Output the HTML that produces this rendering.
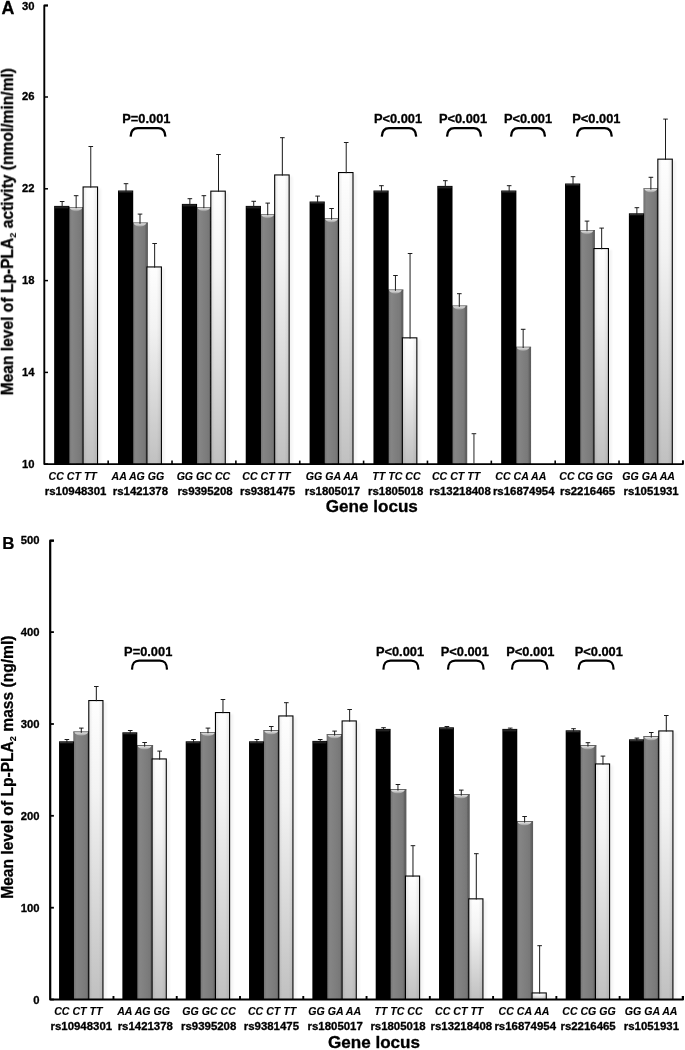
<!DOCTYPE html>
<html lang="en">
<head>
<meta charset="utf-8">
<title>Lp-PLA2 activity and mass by genotype</title>
<style>
html,body{margin:0;padding:0;background:#fff;}
body{width:685px;height:1050px;overflow:hidden;}
svg{display:block;}
text{font-family:"Liberation Sans",Arial,Helvetica,sans-serif;font-weight:bold;fill:#050505;stroke:#050505;stroke-width:0.32px;stroke-linejoin:round;}
.yt{font-size:11.8px;}
.gt{font-size:10.1px;font-style:italic;stroke-width:0.12px;}
.rs{font-size:11.1px;}
.pl{font-size:13.6px;}
.pn{font-size:17.8px;}
.ytl{font-size:16.5px;stroke-width:0.3px;}
.xtl{font-size:16.6px;}
</style>
</head>
<body>
<svg width="685" height="1050" viewBox="0 0 685 1050">
<defs>
<linearGradient id="gh" x1="0" y1="0" x2="1" y2="0">
<stop offset="0" stop-color="#5c5c5c"/><stop offset="0.07" stop-color="#787878"/><stop offset="0.2" stop-color="#858585"/><stop offset="0.55" stop-color="#7e7e7e"/><stop offset="0.8" stop-color="#787878"/><stop offset="0.87" stop-color="#656565"/><stop offset="1" stop-color="#5a5a5a"/>
</linearGradient>
<linearGradient id="gtop" x1="0" y1="0" x2="0" y2="1">
<stop offset="0" stop-color="#e2e2e2"/><stop offset="0.5" stop-color="#c4c4c4"/><stop offset="1" stop-color="#909090"/>
</linearGradient>
<linearGradient id="btop" x1="0" y1="0" x2="0" y2="1">
<stop offset="0" stop-color="#4a4a4a"/><stop offset="1" stop-color="#050505" stop-opacity="0"/>
</linearGradient>
<linearGradient id="wvA" x1="0" y1="0" x2="0" y2="1">
<stop offset="0" stop-color="#fefefe"/><stop offset="0.3" stop-color="#f3f3f3"/><stop offset="1" stop-color="#c0c0c0"/>
</linearGradient>
<linearGradient id="wvB" x1="0" y1="0" x2="0" y2="1">
<stop offset="0" stop-color="#fefefe"/><stop offset="0.3" stop-color="#f3f3f3"/><stop offset="1" stop-color="#c0c0c0"/>
</linearGradient>
<linearGradient id="wh" x1="0" y1="0" x2="1" y2="0">
<stop offset="0" stop-color="#000" stop-opacity="0.07"/><stop offset="0.25" stop-color="#000" stop-opacity="0"/><stop offset="0.7" stop-color="#000" stop-opacity="0"/><stop offset="1" stop-color="#000" stop-opacity="0.07"/>
</linearGradient>
<filter id="soft" x="0" y="0" width="685" height="1050" filterUnits="userSpaceOnUse"><feGaussianBlur stdDeviation="0.32"/></filter>
<filter id="sh" x="-50%" y="-5%" width="200%" height="110%"><feGaussianBlur stdDeviation="1.2"/></filter>
</defs>
<rect width="685" height="1050" fill="#fff"/>
<g filter="url(#soft)">
<g id="panelA">
<rect x="68.75" y="207" width="15.3" height="257.1" fill="url(#gh)"/>
<rect x="68.75" y="207" width="15.3" height="0.7" fill="#5a5a5a"/>
<path d="M69.65 207.7H82.45C80.45 212.3 71.65 212.3 69.65 207.7Z" fill="url(#gtop)"/>
<rect x="54.15" y="205.9" width="15.2" height="258.2" fill="#030303"/>
<rect x="54.95" y="206.7" width="13.4" height="2.4" fill="url(#btop)"/>
<rect x="84.05" y="188.4" width="17.05" height="275.7" fill="#000" opacity="0.045" filter="url(#sh)"/>
<rect x="82.55" y="186.4" width="15.55" height="277.7" fill="#000"/>
<rect x="83.65" y="187.5" width="13.35" height="276.6" fill="url(#wvA)"/>
<rect x="83.65" y="187.5" width="13.35" height="276.6" fill="url(#wh)"/>
<path d="M62.15 207.2V201.4M59.85 201.5H64.45" stroke="#1c1c1c" stroke-width="1" fill="none"/>
<path d="M76.15 208.2V195.6M73.85 195.7H78.45" stroke="#1c1c1c" stroke-width="1" fill="none"/>
<path d="M90.78 187.6V146.4M88.48 146.5H93.08" stroke="#1c1c1c" stroke-width="1" fill="none"/>
<rect x="132.61" y="222.6" width="15.3" height="241.5" fill="url(#gh)"/>
<rect x="132.61" y="222.6" width="15.3" height="0.7" fill="#5a5a5a"/>
<path d="M133.51 223.3H146.31C144.31 227.9 135.51 227.9 133.51 223.3Z" fill="url(#gtop)"/>
<rect x="118.01" y="190.5" width="15.2" height="273.6" fill="#030303"/>
<rect x="118.81" y="191.3" width="13.4" height="2.4" fill="url(#btop)"/>
<rect x="147.91" y="268.4" width="17.05" height="195.7" fill="#000" opacity="0.045" filter="url(#sh)"/>
<rect x="146.41" y="266.4" width="15.55" height="197.7" fill="#000"/>
<rect x="147.51" y="267.5" width="13.35" height="196.6" fill="url(#wvA)"/>
<rect x="147.51" y="267.5" width="13.35" height="196.6" fill="url(#wh)"/>
<path d="M126.01 191.8V183.6M123.71 183.7H128.31" stroke="#1c1c1c" stroke-width="1" fill="none"/>
<path d="M140.01 223.8V214M137.71 214.1H142.31" stroke="#1c1c1c" stroke-width="1" fill="none"/>
<path d="M154.63 267.6V243.4M152.33 243.5H156.94" stroke="#1c1c1c" stroke-width="1" fill="none"/>
<rect x="196.47" y="207" width="15.3" height="257.1" fill="url(#gh)"/>
<rect x="196.47" y="207" width="15.3" height="0.7" fill="#5a5a5a"/>
<path d="M197.37 207.7H210.17C208.17 212.3 199.37 212.3 197.37 207.7Z" fill="url(#gtop)"/>
<rect x="181.87" y="203.9" width="15.2" height="260.2" fill="#030303"/>
<rect x="182.67" y="204.7" width="13.4" height="2.4" fill="url(#btop)"/>
<rect x="211.77" y="192.6" width="17.05" height="271.5" fill="#000" opacity="0.045" filter="url(#sh)"/>
<rect x="210.27" y="190.6" width="15.55" height="273.5" fill="#000"/>
<rect x="211.37" y="191.7" width="13.35" height="272.4" fill="url(#wvA)"/>
<rect x="211.37" y="191.7" width="13.35" height="272.4" fill="url(#wh)"/>
<path d="M189.87 205.2V198.6M187.57 198.7H192.17" stroke="#1c1c1c" stroke-width="1" fill="none"/>
<path d="M203.87 208.2V195.6M201.57 195.7H206.17" stroke="#1c1c1c" stroke-width="1" fill="none"/>
<path d="M218.5 191.8V154.4M216.19 154.5H220.8" stroke="#1c1c1c" stroke-width="1" fill="none"/>
<rect x="260.33" y="214" width="15.3" height="250.1" fill="url(#gh)"/>
<rect x="260.33" y="214" width="15.3" height="0.7" fill="#5a5a5a"/>
<path d="M261.23 214.7H274.03C272.03 219.3 263.23 219.3 261.23 214.7Z" fill="url(#gtop)"/>
<rect x="245.73" y="205.9" width="15.2" height="258.2" fill="#030303"/>
<rect x="246.53" y="206.7" width="13.4" height="2.4" fill="url(#btop)"/>
<rect x="275.63" y="176.4" width="17.05" height="287.7" fill="#000" opacity="0.045" filter="url(#sh)"/>
<rect x="274.13" y="174.4" width="15.55" height="289.7" fill="#000"/>
<rect x="275.23" y="175.5" width="13.35" height="288.6" fill="url(#wvA)"/>
<rect x="275.23" y="175.5" width="13.35" height="288.6" fill="url(#wh)"/>
<path d="M253.73 207.2V201.2M251.43 201.3H256.03" stroke="#1c1c1c" stroke-width="1" fill="none"/>
<path d="M267.73 215.2V203M265.43 203.1H270.03" stroke="#1c1c1c" stroke-width="1" fill="none"/>
<path d="M282.35 175.6V137.6M280.05 137.7H284.65" stroke="#1c1c1c" stroke-width="1" fill="none"/>
<rect x="324.19" y="218.4" width="15.3" height="245.7" fill="url(#gh)"/>
<rect x="324.19" y="218.4" width="15.3" height="0.7" fill="#5a5a5a"/>
<path d="M325.09 219.1H337.89C335.89 223.7 327.09 223.7 325.09 219.1Z" fill="url(#gtop)"/>
<rect x="309.59" y="201.5" width="15.2" height="262.6" fill="#030303"/>
<rect x="310.39" y="202.3" width="13.4" height="2.4" fill="url(#btop)"/>
<rect x="339.49" y="174" width="17.05" height="290.1" fill="#000" opacity="0.045" filter="url(#sh)"/>
<rect x="337.99" y="172" width="15.55" height="292.1" fill="#000"/>
<rect x="339.09" y="173.1" width="13.35" height="291" fill="url(#wvA)"/>
<rect x="339.09" y="173.1" width="13.35" height="291" fill="url(#wh)"/>
<path d="M317.59 202.8V196M315.29 196.1H319.89" stroke="#1c1c1c" stroke-width="1" fill="none"/>
<path d="M331.59 219.6V208.4M329.29 208.5H333.89" stroke="#1c1c1c" stroke-width="1" fill="none"/>
<path d="M346.21 173.2V142.4M343.91 142.5H348.51" stroke="#1c1c1c" stroke-width="1" fill="none"/>
<rect x="388.05" y="289.6" width="15.3" height="174.5" fill="url(#gh)"/>
<rect x="388.05" y="289.6" width="15.3" height="0.7" fill="#5a5a5a"/>
<path d="M388.95 290.3H401.75C399.75 294.9 390.95 294.9 388.95 290.3Z" fill="url(#gtop)"/>
<rect x="373.45" y="190.5" width="15.2" height="273.6" fill="#030303"/>
<rect x="374.25" y="191.3" width="13.4" height="2.4" fill="url(#btop)"/>
<rect x="403.35" y="339.3" width="17.05" height="124.8" fill="#000" opacity="0.045" filter="url(#sh)"/>
<rect x="401.85" y="337.3" width="15.55" height="126.8" fill="#000"/>
<rect x="402.95" y="338.4" width="13.35" height="125.7" fill="url(#wvA)"/>
<rect x="402.95" y="338.4" width="13.35" height="125.7" fill="url(#wh)"/>
<path d="M381.45 191.8V185.6M379.15 185.7H383.75" stroke="#1c1c1c" stroke-width="1" fill="none"/>
<path d="M395.45 290.8V275.4M393.15 275.5H397.75" stroke="#1c1c1c" stroke-width="1" fill="none"/>
<path d="M410.07 338.5V253.4M407.77 253.5H412.37" stroke="#1c1c1c" stroke-width="1" fill="none"/>
<rect x="451.91" y="305.6" width="15.3" height="158.5" fill="url(#gh)"/>
<rect x="451.91" y="305.6" width="15.3" height="0.7" fill="#5a5a5a"/>
<path d="M452.81 306.3H465.61C463.61 310.9 454.81 310.9 452.81 306.3Z" fill="url(#gtop)"/>
<rect x="437.31" y="185.9" width="15.2" height="278.2" fill="#030303"/>
<rect x="438.11" y="186.7" width="13.4" height="2.4" fill="url(#btop)"/>
<path d="M445.31 187.2V180.6M443.01 180.7H447.61" stroke="#1c1c1c" stroke-width="1" fill="none"/>
<path d="M459.31 306.8V293.6M457.01 293.7H461.61" stroke="#1c1c1c" stroke-width="1" fill="none"/>
<path d="M473.93 463.3V433.5M471.63 433.6H476.23" stroke="#4a4a4a" stroke-width="1.2" fill="none"/>
<rect x="515.77" y="346.8" width="15.3" height="117.3" fill="url(#gh)"/>
<rect x="515.77" y="346.8" width="15.3" height="0.7" fill="#5a5a5a"/>
<path d="M516.67 347.5H529.47C527.47 352.1 518.67 352.1 516.67 347.5Z" fill="url(#gtop)"/>
<rect x="501.17" y="190.5" width="15.2" height="273.6" fill="#030303"/>
<rect x="501.97" y="191.3" width="13.4" height="2.4" fill="url(#btop)"/>
<path d="M509.17 191.8V185.6M506.87 185.7H511.47" stroke="#1c1c1c" stroke-width="1" fill="none"/>
<path d="M523.17 348V329.2M520.87 329.3H525.47" stroke="#1c1c1c" stroke-width="1" fill="none"/>
<rect x="579.63" y="230" width="15.3" height="234.1" fill="url(#gh)"/>
<rect x="579.63" y="230" width="15.3" height="0.7" fill="#5a5a5a"/>
<path d="M580.53 230.7H593.33C591.33 235.3 582.53 235.3 580.53 230.7Z" fill="url(#gtop)"/>
<rect x="565.03" y="183.5" width="15.2" height="280.6" fill="#030303"/>
<rect x="565.83" y="184.3" width="13.4" height="2.4" fill="url(#btop)"/>
<rect x="594.93" y="250" width="17.05" height="214.1" fill="#000" opacity="0.045" filter="url(#sh)"/>
<rect x="593.43" y="248" width="15.55" height="216.1" fill="#000"/>
<rect x="594.53" y="249.1" width="13.35" height="215" fill="url(#wvA)"/>
<rect x="594.53" y="249.1" width="13.35" height="215" fill="url(#wh)"/>
<path d="M573.03 184.8V176.6M570.73 176.7H575.33" stroke="#1c1c1c" stroke-width="1" fill="none"/>
<path d="M587.03 231.2V221M584.73 221.1H589.33" stroke="#1c1c1c" stroke-width="1" fill="none"/>
<path d="M601.65 249.2V228M599.36 228.1H603.95" stroke="#1c1c1c" stroke-width="1" fill="none"/>
<rect x="643.49" y="188.4" width="15.3" height="275.7" fill="url(#gh)"/>
<rect x="643.49" y="188.4" width="15.3" height="0.7" fill="#5a5a5a"/>
<path d="M644.39 189.1H657.19C655.19 193.7 646.39 193.7 644.39 189.1Z" fill="url(#gtop)"/>
<rect x="628.89" y="213.3" width="15.2" height="250.8" fill="#030303"/>
<rect x="629.69" y="214.1" width="13.4" height="2.4" fill="url(#btop)"/>
<rect x="658.79" y="160.6" width="17.05" height="303.5" fill="#000" opacity="0.045" filter="url(#sh)"/>
<rect x="657.29" y="158.6" width="15.55" height="305.5" fill="#000"/>
<rect x="658.39" y="159.7" width="13.35" height="304.4" fill="url(#wvA)"/>
<rect x="658.39" y="159.7" width="13.35" height="304.4" fill="url(#wh)"/>
<path d="M636.89 214.6V207.6M634.59 207.7H639.19" stroke="#1c1c1c" stroke-width="1" fill="none"/>
<path d="M650.89 189.6V177.2M648.59 177.3H653.19" stroke="#1c1c1c" stroke-width="1" fill="none"/>
<path d="M665.51 159.8V119M663.22 119.1H667.81" stroke="#1c1c1c" stroke-width="1" fill="none"/>
<path d="M48 5.5H44.3V464.1H682.9V460.6" stroke="#000" stroke-width="1.9" fill="none" stroke-linejoin="round"/>
<path d="M44.3 5.5H48" stroke="#000" stroke-width="1.5"/>
<text transform="translate(34.4 10.05) scale(0.955 1)" text-anchor="end" class="yt">30</text>
<path d="M44.3 97H48" stroke="#000" stroke-width="1.5"/>
<text transform="translate(34.4 100.45) scale(0.955 1)" text-anchor="end" class="yt">26</text>
<path d="M44.3 188.8H48" stroke="#000" stroke-width="1.5"/>
<text transform="translate(34.4 192.25) scale(0.955 1)" text-anchor="end" class="yt">22</text>
<path d="M44.3 280.6H48" stroke="#000" stroke-width="1.5"/>
<text transform="translate(34.4 284.05) scale(0.955 1)" text-anchor="end" class="yt">18</text>
<path d="M44.3 372.4H48" stroke="#000" stroke-width="1.5"/>
<text transform="translate(34.4 375.85) scale(0.955 1)" text-anchor="end" class="yt">14</text>
<path d="M44.3 464.1H48" stroke="#000" stroke-width="1.5"/>
<text transform="translate(34.4 467.55) scale(0.955 1)" text-anchor="end" class="yt">10</text>
<path d="M108.16 464.1V460.6" stroke="#000" stroke-width="1.5999999999999999"/>
<path d="M172.02 464.1V460.6" stroke="#000" stroke-width="1.5999999999999999"/>
<path d="M235.88 464.1V460.6" stroke="#000" stroke-width="1.5999999999999999"/>
<path d="M299.74 464.1V460.6" stroke="#000" stroke-width="1.5999999999999999"/>
<path d="M363.6 464.1V460.6" stroke="#000" stroke-width="1.5999999999999999"/>
<path d="M427.46 464.1V460.6" stroke="#000" stroke-width="1.5999999999999999"/>
<path d="M491.32 464.1V460.6" stroke="#000" stroke-width="1.5999999999999999"/>
<path d="M555.18 464.1V460.6" stroke="#000" stroke-width="1.5999999999999999"/>
<path d="M619.04 464.1V460.6" stroke="#000" stroke-width="1.5999999999999999"/>
<path d="M682.9 464.1V460.6" stroke="#000" stroke-width="1.5999999999999999"/>
<text transform="translate(72.7 480.1) scale(1.05 1)" text-anchor="middle" class="gt">CC CT TT</text>
<text transform="translate(75.6 495.2) scale(1.03 1)" text-anchor="middle" class="rs">rs10948301</text>
<text transform="translate(137.9 480.1) scale(1.05 1)" text-anchor="middle" class="gt">AA AG GG</text>
<text transform="translate(140.4 495.2) scale(1.03 1)" text-anchor="middle" class="rs">rs1421378</text>
<text transform="translate(203.4 480.1) scale(1.05 1)" text-anchor="middle" class="gt">GG GC CC</text>
<text transform="translate(205 495.2) scale(1.03 1)" text-anchor="middle" class="rs">rs9395208</text>
<text transform="translate(266.4 480.1) scale(1.05 1)" text-anchor="middle" class="gt">CC CT TT</text>
<text transform="translate(267.6 495.2) scale(1.03 1)" text-anchor="middle" class="rs">rs9381475</text>
<text transform="translate(332.1 480.1) scale(1.05 1)" text-anchor="middle" class="gt">GG GA AA</text>
<text transform="translate(332.4 495.2) scale(1.03 1)" text-anchor="middle" class="rs">rs1805017</text>
<text transform="translate(396.5 480.1) scale(1.05 1)" text-anchor="middle" class="gt">TT TC CC</text>
<text transform="translate(395.7 495.2) scale(1.03 1)" text-anchor="middle" class="rs">rs1805018</text>
<text transform="translate(456.1 480.1) scale(1.05 1)" text-anchor="middle" class="gt">CC CT TT</text>
<text transform="translate(460 495.2) scale(1.03 1)" text-anchor="middle" class="rs">rs13218408</text>
<text transform="translate(520.8 480.1) scale(1.05 1)" text-anchor="middle" class="gt">CC CA AA</text>
<text transform="translate(523.7 495.2) scale(1.03 1)" text-anchor="middle" class="rs">rs16874954</text>
<text transform="translate(586 480.1) scale(1.05 1)" text-anchor="middle" class="gt">CC CG GG</text>
<text transform="translate(587.6 495.2) scale(1.03 1)" text-anchor="middle" class="rs">rs2216465</text>
<text transform="translate(648.6 480.1) scale(1.05 1)" text-anchor="middle" class="gt">GG GA AA</text>
<text transform="translate(651.1 495.2) scale(1.03 1)" text-anchor="middle" class="rs">rs1051931</text>
<text transform="translate(146.4 122.9) scale(0.945 1)" text-anchor="middle" class="pl">P=0.001</text>
<path d="M130.6 136.6C130.8 130.4 133 128 137.8 128H158.2C163 128 165.2 130.4 165.4 136.6" stroke="#000" stroke-width="2.25" fill="none"/>
<text transform="translate(398 122.9) scale(0.945 1)" text-anchor="middle" class="pl">P&lt;0.001</text>
<path d="M381.8 136.6C382 130.4 384.2 128 389 128H409C413.8 128 416 130.4 416.2 136.6" stroke="#000" stroke-width="2.25" fill="none"/>
<text transform="translate(463 122.9) scale(0.945 1)" text-anchor="middle" class="pl">P&lt;0.001</text>
<path d="M447 136.6C447.2 130.4 449.4 128 454.2 128H473.8C478.6 128 480.8 130.4 481 136.6" stroke="#000" stroke-width="2.25" fill="none"/>
<text transform="translate(528 122.9) scale(0.945 1)" text-anchor="middle" class="pl">P&lt;0.001</text>
<path d="M511 136.6C511.2 130.4 513.4 128 518.2 128H537.8C542.6 128 544.8 130.4 545 136.6" stroke="#000" stroke-width="2.25" fill="none"/>
<text transform="translate(596.4 122.9) scale(0.945 1)" text-anchor="middle" class="pl">P&lt;0.001</text>
<path d="M577 136.6C577.2 130.4 579.4 128 584.2 128H604.6C609.4 128 611.6 130.4 611.8 136.6" stroke="#000" stroke-width="2.25" fill="none"/>
<text x="1.6" y="13.7" class="pn">A</text>
<text transform="translate(12.9 395.4) rotate(-90) scale(0.945 1)" class="ytl">Mean level of Lp-PLA<tspan font-size="9.8" dy="3.4" stroke-width="0.1">2</tspan><tspan dy="-3.4"> activity (nmol/min/ml)</tspan></text>
<text transform="translate(371.8 512.4) scale(1.03 1)" text-anchor="middle" class="xtl">Gene locus</text>
</g>
<g id="panelB">
<rect x="73.35" y="731.6" width="16.4" height="267.9" fill="url(#gh)"/>
<rect x="73.35" y="731.6" width="16.4" height="0.7" fill="#3a3a3a"/>
<path d="M74.25 732.3H88.15C86.15 736.9 76.25 736.9 74.25 732.3Z" fill="url(#gtop)"/>
<rect x="59.05" y="741.3" width="14.9" height="258.2" fill="#030303"/>
<rect x="59.85" y="742.1" width="13.1" height="2.4" fill="url(#btop)"/>
<rect x="89.75" y="702" width="16.75" height="297.5" fill="#000" opacity="0.045" filter="url(#sh)"/>
<rect x="88.25" y="700" width="15.25" height="299.5" fill="#000"/>
<rect x="89.35" y="701.1" width="13.05" height="298.4" fill="url(#wvB)"/>
<rect x="89.35" y="701.1" width="13.05" height="298.4" fill="url(#wh)"/>
<path d="M66.9 742.6V739.4M64.6 739.5H69.2" stroke="#1c1c1c" stroke-width="1" fill="none"/>
<path d="M81.3 732.8V728M79 728.1H83.6" stroke="#1c1c1c" stroke-width="1" fill="none"/>
<path d="M96.33 701.2V686.4M94.03 686.5H98.62" stroke="#1c1c1c" stroke-width="1" fill="none"/>
<rect x="136.68" y="745.4" width="16.4" height="254.1" fill="url(#gh)"/>
<rect x="136.68" y="745.4" width="16.4" height="0.7" fill="#3a3a3a"/>
<path d="M137.58 746.1H151.48C149.48 750.7 139.58 750.7 137.58 746.1Z" fill="url(#gtop)"/>
<rect x="122.38" y="732.3" width="14.9" height="267.2" fill="#030303"/>
<rect x="123.18" y="733.1" width="13.1" height="2.4" fill="url(#btop)"/>
<rect x="153.08" y="760.4" width="16.75" height="239.1" fill="#000" opacity="0.045" filter="url(#sh)"/>
<rect x="151.58" y="758.4" width="15.25" height="241.1" fill="#000"/>
<rect x="152.68" y="759.5" width="13.05" height="240" fill="url(#wvB)"/>
<rect x="152.68" y="759.5" width="13.05" height="240" fill="url(#wh)"/>
<path d="M130.23 733.6V730.4M127.93 730.5H132.53" stroke="#1c1c1c" stroke-width="1" fill="none"/>
<path d="M144.63 746.6V742.4M142.33 742.5H146.93" stroke="#1c1c1c" stroke-width="1" fill="none"/>
<path d="M159.65 759.6V751M157.35 751.1H161.95" stroke="#1c1c1c" stroke-width="1" fill="none"/>
<rect x="200.01" y="732" width="16.4" height="267.5" fill="url(#gh)"/>
<rect x="200.01" y="732" width="16.4" height="0.7" fill="#3a3a3a"/>
<path d="M200.91 732.7H214.81C212.81 737.3 202.91 737.3 200.91 732.7Z" fill="url(#gtop)"/>
<rect x="185.71" y="741.3" width="14.9" height="258.2" fill="#030303"/>
<rect x="186.51" y="742.1" width="13.1" height="2.4" fill="url(#btop)"/>
<rect x="216.41" y="714" width="16.75" height="285.5" fill="#000" opacity="0.045" filter="url(#sh)"/>
<rect x="214.91" y="712" width="15.25" height="287.5" fill="#000"/>
<rect x="216.01" y="713.1" width="13.05" height="286.4" fill="url(#wvB)"/>
<rect x="216.01" y="713.1" width="13.05" height="286.4" fill="url(#wh)"/>
<path d="M193.56 742.6V739.4M191.26 739.5H195.86" stroke="#1c1c1c" stroke-width="1" fill="none"/>
<path d="M207.96 733.2V728M205.66 728.1H210.26" stroke="#1c1c1c" stroke-width="1" fill="none"/>
<path d="M222.98 713.2V699.4M220.68 699.5H225.28" stroke="#1c1c1c" stroke-width="1" fill="none"/>
<rect x="263.34" y="730.4" width="16.4" height="269.1" fill="url(#gh)"/>
<rect x="263.34" y="730.4" width="16.4" height="0.7" fill="#3a3a3a"/>
<path d="M264.24 731.1H278.14C276.14 735.7 266.24 735.7 264.24 731.1Z" fill="url(#gtop)"/>
<rect x="249.04" y="741.3" width="14.9" height="258.2" fill="#030303"/>
<rect x="249.84" y="742.1" width="13.1" height="2.4" fill="url(#btop)"/>
<rect x="279.74" y="717.4" width="16.75" height="282.1" fill="#000" opacity="0.045" filter="url(#sh)"/>
<rect x="278.24" y="715.4" width="15.25" height="284.1" fill="#000"/>
<rect x="279.34" y="716.5" width="13.05" height="283" fill="url(#wvB)"/>
<rect x="279.34" y="716.5" width="13.05" height="283" fill="url(#wh)"/>
<path d="M256.89 742.6V739.4M254.59 739.5H259.19" stroke="#1c1c1c" stroke-width="1" fill="none"/>
<path d="M271.29 731.6V726.4M268.99 726.5H273.59" stroke="#1c1c1c" stroke-width="1" fill="none"/>
<path d="M286.31 716.6V702.6M284.01 702.7H288.62" stroke="#1c1c1c" stroke-width="1" fill="none"/>
<rect x="326.67" y="734.4" width="16.4" height="265.1" fill="url(#gh)"/>
<rect x="326.67" y="734.4" width="16.4" height="0.7" fill="#3a3a3a"/>
<path d="M327.57 735.1H341.47C339.47 739.7 329.57 739.7 327.57 735.1Z" fill="url(#gtop)"/>
<rect x="312.37" y="740.9" width="14.9" height="258.6" fill="#030303"/>
<rect x="313.17" y="741.7" width="13.1" height="2.4" fill="url(#btop)"/>
<rect x="343.07" y="722.4" width="16.75" height="277.1" fill="#000" opacity="0.045" filter="url(#sh)"/>
<rect x="341.57" y="720.4" width="15.25" height="279.1" fill="#000"/>
<rect x="342.67" y="721.5" width="13.05" height="278" fill="url(#wvB)"/>
<rect x="342.67" y="721.5" width="13.05" height="278" fill="url(#wh)"/>
<path d="M320.22 742.2V739.4M317.92 739.5H322.52" stroke="#1c1c1c" stroke-width="1" fill="none"/>
<path d="M334.62 735.6V731M332.32 731.1H336.92" stroke="#1c1c1c" stroke-width="1" fill="none"/>
<path d="M349.64 721.6V709.4M347.34 709.5H351.94" stroke="#1c1c1c" stroke-width="1" fill="none"/>
<rect x="390" y="789.4" width="16.4" height="210.1" fill="url(#gh)"/>
<rect x="390" y="789.4" width="16.4" height="0.7" fill="#3a3a3a"/>
<path d="M390.9 790.1H404.8C402.8 794.7 392.9 794.7 390.9 790.1Z" fill="url(#gtop)"/>
<rect x="375.7" y="728.9" width="14.9" height="270.6" fill="#030303"/>
<rect x="376.5" y="729.7" width="13.1" height="2.4" fill="url(#btop)"/>
<rect x="406.4" y="877.5" width="16.75" height="122" fill="#000" opacity="0.045" filter="url(#sh)"/>
<rect x="404.9" y="875.5" width="15.25" height="124" fill="#000"/>
<rect x="406" y="876.6" width="13.05" height="122.9" fill="url(#wvB)"/>
<rect x="406" y="876.6" width="13.05" height="122.9" fill="url(#wh)"/>
<path d="M383.55 730.2V727.6M381.25 727.7H385.85" stroke="#1c1c1c" stroke-width="1" fill="none"/>
<path d="M397.95 790.6V784.4M395.65 784.5H400.25" stroke="#1c1c1c" stroke-width="1" fill="none"/>
<path d="M412.97 876.7V845.6M410.67 845.7H415.27" stroke="#1c1c1c" stroke-width="1" fill="none"/>
<rect x="453.33" y="794.4" width="16.4" height="205.1" fill="url(#gh)"/>
<rect x="453.33" y="794.4" width="16.4" height="0.7" fill="#3a3a3a"/>
<path d="M454.23 795.1H468.13C466.13 799.7 456.23 799.7 454.23 795.1Z" fill="url(#gtop)"/>
<rect x="439.03" y="727.3" width="14.9" height="272.2" fill="#030303"/>
<rect x="439.83" y="728.1" width="13.1" height="2.4" fill="url(#btop)"/>
<rect x="469.73" y="900.3" width="16.75" height="99.2" fill="#000" opacity="0.045" filter="url(#sh)"/>
<rect x="468.23" y="898.3" width="15.25" height="101.2" fill="#000"/>
<rect x="469.33" y="899.4" width="13.05" height="100.1" fill="url(#wvB)"/>
<rect x="469.33" y="899.4" width="13.05" height="100.1" fill="url(#wh)"/>
<path d="M446.88 728.6V726.4M444.58 726.5H449.18" stroke="#1c1c1c" stroke-width="1" fill="none"/>
<path d="M461.28 795.6V790M458.98 790.1H463.58" stroke="#1c1c1c" stroke-width="1" fill="none"/>
<path d="M476.31 899.5V853.6M474 853.7H478.61" stroke="#1c1c1c" stroke-width="1" fill="none"/>
<rect x="516.66" y="821.4" width="16.4" height="178.1" fill="url(#gh)"/>
<rect x="516.66" y="821.4" width="16.4" height="0.7" fill="#3a3a3a"/>
<path d="M517.56 822.1H531.46C529.46 826.7 519.56 826.7 517.56 822.1Z" fill="url(#gtop)"/>
<rect x="502.36" y="728.9" width="14.9" height="270.6" fill="#030303"/>
<rect x="503.16" y="729.7" width="13.1" height="2.4" fill="url(#btop)"/>
<rect x="533.06" y="994.4" width="16.75" height="5.1" fill="#000" opacity="0.045" filter="url(#sh)"/>
<rect x="531.56" y="992.4" width="15.25" height="7.1" fill="#000"/>
<rect x="532.66" y="993.5" width="13.05" height="6" fill="url(#wvB)"/>
<rect x="532.66" y="993.5" width="13.05" height="6" fill="url(#wh)"/>
<path d="M510.21 730.2V728M507.91 728.1H512.51" stroke="#1c1c1c" stroke-width="1" fill="none"/>
<path d="M524.61 822.6V816.4M522.31 816.5H526.91" stroke="#1c1c1c" stroke-width="1" fill="none"/>
<path d="M539.64 993.6V945.6M537.34 945.7H541.94" stroke="#1c1c1c" stroke-width="1" fill="none"/>
<rect x="579.99" y="745.4" width="16.4" height="254.1" fill="url(#gh)"/>
<rect x="579.99" y="745.4" width="16.4" height="0.7" fill="#3a3a3a"/>
<path d="M580.89 746.1H594.79C592.79 750.7 582.89 750.7 580.89 746.1Z" fill="url(#gtop)"/>
<rect x="565.69" y="730.3" width="14.9" height="269.2" fill="#030303"/>
<rect x="566.49" y="731.1" width="13.1" height="2.4" fill="url(#btop)"/>
<rect x="596.39" y="765.4" width="16.75" height="234.1" fill="#000" opacity="0.045" filter="url(#sh)"/>
<rect x="594.89" y="763.4" width="15.25" height="236.1" fill="#000"/>
<rect x="595.99" y="764.5" width="13.05" height="235" fill="url(#wvB)"/>
<rect x="595.99" y="764.5" width="13.05" height="235" fill="url(#wh)"/>
<path d="M573.54 731.6V728.6M571.24 728.7H575.84" stroke="#1c1c1c" stroke-width="1" fill="none"/>
<path d="M587.94 746.6V742.6M585.64 742.7H590.24" stroke="#1c1c1c" stroke-width="1" fill="none"/>
<path d="M602.97 764.6V756M600.67 756.1H605.26" stroke="#1c1c1c" stroke-width="1" fill="none"/>
<rect x="643.32" y="736.4" width="16.4" height="263.1" fill="url(#gh)"/>
<rect x="643.32" y="736.4" width="16.4" height="0.7" fill="#3a3a3a"/>
<path d="M644.22 737.1H658.12C656.12 741.7 646.22 741.7 644.22 737.1Z" fill="url(#gtop)"/>
<rect x="629.02" y="739.3" width="14.9" height="260.2" fill="#030303"/>
<rect x="629.82" y="740.1" width="13.1" height="2.4" fill="url(#btop)"/>
<rect x="659.72" y="732.4" width="16.75" height="267.1" fill="#000" opacity="0.045" filter="url(#sh)"/>
<rect x="658.22" y="730.4" width="15.25" height="269.1" fill="#000"/>
<rect x="659.32" y="731.5" width="13.05" height="268" fill="url(#wvB)"/>
<rect x="659.32" y="731.5" width="13.05" height="268" fill="url(#wh)"/>
<path d="M636.87 740.6V738M634.57 738.1H639.17" stroke="#1c1c1c" stroke-width="1" fill="none"/>
<path d="M651.27 737.6V732.4M648.97 732.5H653.57" stroke="#1c1c1c" stroke-width="1" fill="none"/>
<path d="M666.3 731.6V715.4M664 715.5H668.6" stroke="#1c1c1c" stroke-width="1" fill="none"/>
<path d="M53.9 540.7H50.2V999.5H682.9V996" stroke="#000" stroke-width="2.2" fill="none" stroke-linejoin="round"/>
<path d="M50.2 540.7H53.9" stroke="#000" stroke-width="1.8000000000000003"/>
<text transform="translate(39.6 544.4) scale(0.955 1)" text-anchor="end" class="yt">500</text>
<path d="M50.2 632.1H53.9" stroke="#000" stroke-width="1.8000000000000003"/>
<text transform="translate(39.6 636.2) scale(0.955 1)" text-anchor="end" class="yt">400</text>
<path d="M50.2 724H53.9" stroke="#000" stroke-width="1.8000000000000003"/>
<text transform="translate(39.6 728.1) scale(0.955 1)" text-anchor="end" class="yt">300</text>
<path d="M50.2 815.8H53.9" stroke="#000" stroke-width="1.8000000000000003"/>
<text transform="translate(39.6 819.9) scale(0.955 1)" text-anchor="end" class="yt">200</text>
<path d="M50.2 907.7H53.9" stroke="#000" stroke-width="1.8000000000000003"/>
<text transform="translate(39.6 911.8) scale(0.955 1)" text-anchor="end" class="yt">100</text>
<path d="M50.2 999.5H53.9" stroke="#000" stroke-width="1.8000000000000003"/>
<text transform="translate(39.6 1003.6) scale(0.955 1)" text-anchor="end" class="yt">0</text>
<path d="M113.47 999.5V996" stroke="#000" stroke-width="1.9000000000000001"/>
<path d="M176.74 999.5V996" stroke="#000" stroke-width="1.9000000000000001"/>
<path d="M240.01 999.5V996" stroke="#000" stroke-width="1.9000000000000001"/>
<path d="M303.28 999.5V996" stroke="#000" stroke-width="1.9000000000000001"/>
<path d="M366.55 999.5V996" stroke="#000" stroke-width="1.9000000000000001"/>
<path d="M429.82 999.5V996" stroke="#000" stroke-width="1.9000000000000001"/>
<path d="M493.09 999.5V996" stroke="#000" stroke-width="1.9000000000000001"/>
<path d="M556.36 999.5V996" stroke="#000" stroke-width="1.9000000000000001"/>
<path d="M619.63 999.5V996" stroke="#000" stroke-width="1.9000000000000001"/>
<path d="M682.9 999.5V996" stroke="#000" stroke-width="1.9000000000000001"/>
<text transform="translate(78.3 1015.2) scale(1.05 1)" text-anchor="middle" class="gt">CC CT TT</text>
<text transform="translate(81.3 1030.3) scale(1.03 1)" text-anchor="middle" class="rs">rs10948301</text>
<text transform="translate(143.6 1015.2) scale(1.05 1)" text-anchor="middle" class="gt">AA AG GG</text>
<text transform="translate(145.3 1030.3) scale(1.03 1)" text-anchor="middle" class="rs">rs1421378</text>
<text transform="translate(209.1 1015.2) scale(1.05 1)" text-anchor="middle" class="gt">GG GC CC</text>
<text transform="translate(208.7 1030.3) scale(1.03 1)" text-anchor="middle" class="rs">rs9395208</text>
<text transform="translate(272.1 1015.2) scale(1.05 1)" text-anchor="middle" class="gt">CC CT TT</text>
<text transform="translate(271.4 1030.3) scale(1.03 1)" text-anchor="middle" class="rs">rs9381475</text>
<text transform="translate(334.75 1015.2) scale(1.05 1)" text-anchor="middle" class="gt">GG GA AA</text>
<text transform="translate(335.2 1030.3) scale(1.03 1)" text-anchor="middle" class="rs">rs1805017</text>
<text transform="translate(398.5 1015.2) scale(1.05 1)" text-anchor="middle" class="gt">TT TC CC</text>
<text transform="translate(398 1030.3) scale(1.03 1)" text-anchor="middle" class="rs">rs1805018</text>
<text transform="translate(459.2 1015.2) scale(1.05 1)" text-anchor="middle" class="gt">CC CT TT</text>
<text transform="translate(461.3 1030.3) scale(1.03 1)" text-anchor="middle" class="rs">rs13218408</text>
<text transform="translate(524 1015.2) scale(1.05 1)" text-anchor="middle" class="gt">CC CA AA</text>
<text transform="translate(525.2 1030.3) scale(1.03 1)" text-anchor="middle" class="rs">rs16874954</text>
<text transform="translate(589 1015.2) scale(1.05 1)" text-anchor="middle" class="gt">CC CG GG</text>
<text transform="translate(588.1 1030.3) scale(1.03 1)" text-anchor="middle" class="rs">rs2216465</text>
<text transform="translate(651.1 1015.2) scale(1.05 1)" text-anchor="middle" class="gt">GG GA AA</text>
<text transform="translate(651.4 1030.3) scale(1.03 1)" text-anchor="middle" class="rs">rs1051931</text>
<text transform="translate(148.2 655.9) scale(0.945 1)" text-anchor="middle" class="pl">P=0.001</text>
<path d="M132 669.6C132.2 663 134.4 660.6 139.2 660.6H159.8C164.6 660.6 166.8 663 167 669.6" stroke="#000" stroke-width="2.25" fill="none"/>
<text transform="translate(400 655.9) scale(0.945 1)" text-anchor="middle" class="pl">P&lt;0.001</text>
<path d="M383.4 669.6C383.6 663 385.8 660.6 390.6 660.6H411.2C416 660.6 418.2 663 418.4 669.6" stroke="#000" stroke-width="2.25" fill="none"/>
<text transform="translate(464.8 655.9) scale(0.945 1)" text-anchor="middle" class="pl">P&lt;0.001</text>
<path d="M448 669.6C448.2 663 450.4 660.6 455.2 660.6H476.4C481.2 660.6 483.4 663 483.6 669.6" stroke="#000" stroke-width="2.25" fill="none"/>
<text transform="translate(530.4 655.9) scale(0.945 1)" text-anchor="middle" class="pl">P&lt;0.001</text>
<path d="M512 669.6C512.2 663 514.4 660.6 519.2 660.6H540.2C545 660.6 547.2 663 547.4 669.6" stroke="#000" stroke-width="2.25" fill="none"/>
<text transform="translate(598.8 655.9) scale(0.945 1)" text-anchor="middle" class="pl">P&lt;0.001</text>
<path d="M578.6 669.6C578.8 663 581 660.6 585.8 660.6H606.4C611.2 660.6 613.4 663 613.6 669.6" stroke="#000" stroke-width="2.25" fill="none"/>
<text x="2.3" y="548.6" class="pn" style="font-size:16.9px;stroke-width:0.2px">B</text>
<text transform="translate(12.9 898.8) rotate(-90) scale(0.945 1)" class="ytl">Mean level of Lp-PLA<tspan font-size="9.8" dy="3.4" stroke-width="0.1">2</tspan><tspan dy="-3.4"> mass (ng/ml)</tspan></text>
<text transform="translate(374 1048.2) scale(1.03 1)" text-anchor="middle" class="xtl">Gene locus</text>
</g>
</g>
</svg>
</body>
</html>
